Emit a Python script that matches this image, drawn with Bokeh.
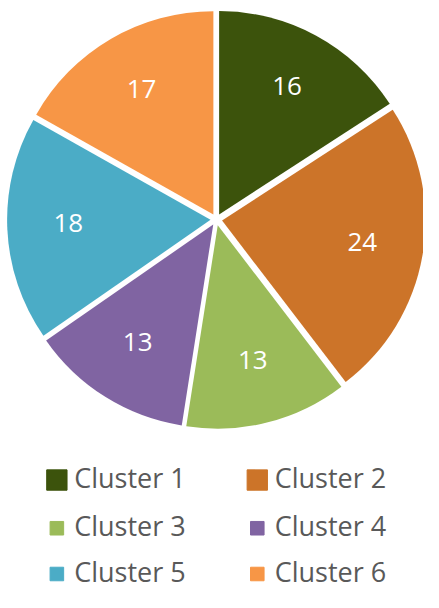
import numpy as np
from bokeh.plotting import figure
from bokeh.models import Range1d, ColumnDataSource
from bokeh.core.properties import value
from bokeh.embed import file_html
from bokeh.resources import INLINE

# ---- data ----
clusters = ["Cluster 1", "Cluster 2", "Cluster 3", "Cluster 4", "Cluster 5", "Cluster 6"]
counts = [16, 24, 13, 13, 18, 17]
colors = ["#3C530C", "#CC7429", "#9BBB59", "#8064A2", "#4BACC6", "#F79646"]

# ---- layout ----
W, H = 423, 592
REF_W, REF_H = 439.0, 608.0
SX, SY = W / REF_W, H / REF_H
S = (SX + SY) / 2


def fx(xr):
    return xr * SX


def fy(yr):
    return H - yr * SY


CX, CY = 224.0, 225.0   # pie centre (reference px)
R = 210.0 * S           # radius
EXPLODE = 6.0 * S       # explosion distance
LABEL_FRAC = 0.70

p = figure(width=W, height=H, x_range=Range1d(0, W), y_range=Range1d(0, H),
           output_backend="svg", toolbar_location=None, min_border=0,
           background_fill_color="white", border_fill_color="white")
p.axis.visible = False
p.grid.visible = False
p.outline_line_color = None

vals = np.array(counts, dtype=float)
frac = vals / vals.sum()
cum_end = np.cumsum(frac)
cum_start = cum_end - frac
bis = 2 * np.pi * (cum_start + cum_end) / 2  # clockwise from top

wx = fx(CX) + EXPLODE * np.sin(bis)
wy = fy(CY) + EXPLODE * np.cos(bis)
start = np.pi / 2 - 2 * np.pi * cum_start
end = np.pi / 2 - 2 * np.pi * cum_end

src = ColumnDataSource(dict(x=wx, y=wy, start=start, end=end, color=colors,
                            lx=wx + LABEL_FRAC * R * np.sin(bis),
                            ly=wy + LABEL_FRAC * R * np.cos(bis) + 3,
                            label=[str(c) for c in counts]))

p.wedge(x="x", y="y", radius=R, start_angle="start", end_angle="end",
        direction="clock", fill_color="color", line_color=None, source=src)

p.text(x="lx", y="ly", text="label", source=src, text_color="white",
       text_font=value("Open Sans"), text_font_size="26px",
       text_align="center", text_baseline="middle")

# ---- legend (2 columns x 3 rows) ----
col_x = [58.5, 266.5]             # marker centres (reference px)
row_y = [492.5, 542.0, 589.0]     # row centres (reference px)
mx, my, tx, ty, msz = [], [], [], [], []
for i in range(len(clusters)):
    c, r = i % 2, i // 2
    mx.append(fx(col_x[c]))
    my.append(fy(row_y[r]))
    tx.append(fx(col_x[c] + 18))
    ty.append(fy(row_y[r]) + 3)
    msz.append((21 if r == 0 else 14) * S)

lsrc = ColumnDataSource(dict(mx=mx, my=my, tx=tx, ty=ty, size=msz,
                             color=colors, name=clusters))
p.scatter(x="mx", y="my", size="size", marker="square", fill_color="color",
          line_color="color", source=lsrc)
p.text(x="tx", y="ty", text="name", source=lsrc, text_color="#595959",
       text_font=value("Open Sans"), text_font_size="27px",
       text_align="left", text_baseline="middle")

open("out.html", "w").write(file_html(p, INLINE))
